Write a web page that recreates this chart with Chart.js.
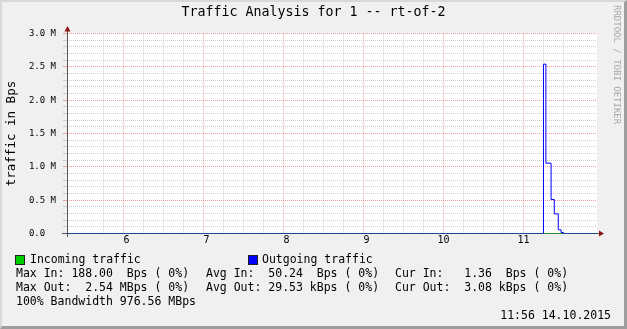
<!DOCTYPE html>
<html>
<head>
<meta charset="utf-8">
<script src="https://cdn.jsdelivr.net/npm/chart.js@4.4.0/dist/chart.umd.min.js"></script>
<style>
  html, body { margin: 0; padding: 0; background: #F0F0F0; }
  #wrap { position: relative; width: 627px; height: 329px; background: #F0F0F0; overflow: hidden;
          font-family: "DejaVu Sans Mono", monospace; color: #000; }
  #wrap canvas { position: absolute; left: 0; top: 0; }
  .frame { position: absolute; left: 0; top: 0; width: 627px; height: 329px; box-sizing: border-box;
           border-style: solid; border-width: 2px 3px 3px 2px;
           border-color: #D8D8D8 #9E9E9E #9E9E9E #D8D8D8; pointer-events: none; }
  .t { position: absolute; font-size: 11.5px; line-height: 14px; white-space: pre; }
  .sq { position: absolute; top: 255px; width: 8px; height: 8px; border: 1px solid #202020; }
  #brand { position: absolute; left: 621px; top: 5px; font-size: 9px; line-height: 9px; color: #A8A8A8;
           white-space: pre; transform-origin: 0 0; transform: rotate(90deg); }
</style>
</head>
<body>
<div id="wrap">
  <canvas id="myChart" width="627" height="329"></canvas>
  <div class="frame"></div>
  <div id="brand">RRDTOOL / TOBI OETIKER</div>
  <div class="sq" style="left:15px;background:#00CC00"></div>
  <div class="t" style="left:30px;top:252px">Incoming traffic</div>
  <div class="sq" style="left:248px;background:#0000FF"></div>
  <div class="t" style="left:262px;top:252px">Outgoing traffic</div>
  <div class="t" style="left:16px;top:266px">Max In: 188.00  Bps ( 0%)</div>
  <div class="t" style="left:206px;top:266px">Avg In:  50.24  Bps ( 0%)</div>
  <div class="t" style="left:395px;top:266px">Cur In:   1.36  Bps ( 0%)</div>
  <div class="t" style="left:16px;top:280px">Max Out:  2.54 MBps ( 0%)</div>
  <div class="t" style="left:206px;top:280px">Avg Out: 29.53 kBps ( 0%)</div>
  <div class="t" style="left:395px;top:280px">Cur Out:  3.08 kBps ( 0%)</div>
  <div class="t" style="left:16px;top:294px">100% Bandwidth 976.56 MBps</div>
  <div class="t" style="right:16px;top:308px">11:56 14.10.2015</div>
</div>
<script>
// time of day in hours, values in MBps
const hours = [5.294, 11.25, 11.28, 11.345, 11.385, 11.435, 11.47, 11.5, 11.919];
const outgoing = [0, 2.54, 1.055, 0.51, 0.295, 0.055, 0.015, 0, 0];
const incoming = [0, 0.000188, 0.00006, 0.00004, 0.00003, 0.00002, 0.00001, 0, 0];
const hourTicks = [6, 7, 8, 9, 10, 11];
const yTicks = [0, 0.5, 1.0, 1.5, 2.0, 2.5, 3.0];

const MAJOR = '#EE9A9A';
const MINOR = '#CDCDCD';
const mono = '"DejaVu Sans Mono", monospace';

function near(a, b) { return Math.abs(a - b) < 1e-6; }
function onStep(v, n) { return Math.abs(v * n - Math.round(v * n)) < 1e-6; }

const axes = {
  id: 'axes',
  beforeDraw(chart) {
    const { ctx, chartArea: a } = chart;
    ctx.save();
    ctx.fillStyle = '#FFFFFF';
    ctx.fillRect(a.left, a.top, a.right - a.left, a.bottom - a.top);
    ctx.restore();
  },
  beforeDatasetsDraw(chart) {
    const { ctx, chartArea: a } = chart;
    ctx.save();
    ctx.strokeStyle = '#555555';
    ctx.lineWidth = 1;
    ctx.beginPath();
    ctx.moveTo(a.left + 0.5, a.top - 3);
    ctx.lineTo(a.left + 0.5, a.bottom + 3.5);
    ctx.moveTo(a.left - 5, a.bottom);
    ctx.lineTo(a.right + 3, a.bottom);
    ctx.stroke();
    ctx.restore();
  },
  afterDraw(chart) {
    const { ctx, chartArea: a } = chart;
    ctx.save();
    ctx.fillStyle = '#8E1414';
    ctx.beginPath();
    ctx.moveTo(a.left + 0.5, a.top - 7.5);
    ctx.lineTo(a.left - 2.5, a.top - 2);
    ctx.lineTo(a.left + 3.5, a.top - 2);
    ctx.closePath();
    ctx.fill();
    ctx.beginPath();
    ctx.moveTo(a.right + 7, a.bottom);
    ctx.lineTo(a.right + 2, a.bottom - 3);
    ctx.lineTo(a.right + 2, a.bottom + 3);
    ctx.closePath();
    ctx.fill();
    ctx.restore();
  }
};

new Chart('myChart', {
  type: 'line',
  data: {
    datasets: [{
      label: 'Outgoing traffic',
      data: hours.map((h, i) => ({ x: h, y: outgoing[i] })),
      borderColor: '#0000FF',
      borderWidth: 1,
      pointRadius: 0,
      stepped: 'before',
      order: 1
    }, {
      label: 'Incoming traffic',
      data: hours.map((h, i) => ({ x: h, y: incoming[i] })),
      borderColor: '#00CC00',
      borderWidth: 1,
      pointRadius: 0,
      stepped: 'before',
      order: 2
    }]
  },
  options: {
    responsive: false,
    animation: false,
    layout: { padding: { left: 0, right: 0, top: 0, bottom: 80 } },
    plugins: {
      legend: { display: false },
      tooltip: { enabled: false },
      title: {
        display: true,
        text: 'Traffic Analysis for 1 -- rt-of-2',
        color: '#000',
        font: { family: mono, size: 13.3, weight: 'normal', lineHeight: 1.2 },
        padding: { top: 5, bottom: 12.54 }
      }
    },
    scales: {
      x: {
        type: 'linear',
        min: 5.294,
        max: 11.919,
        afterFit: s => { s.height = 15.5; },
        border: { display: false, dash: [1, 1] },
        grid: {
          drawTicks: false,
          color: c => hourTicks.some(h => near(h, c.tick.value)) ? MAJOR : MINOR
        },
        ticks: {
          stepSize: 0.25,
          autoSkip: false,
          maxRotation: 0,
          padding: 2,
          color: '#000',
          font: { family: mono, size: 10, lineHeight: 1 },
          callback: v => {
            if (!onStep(v, 4)) return null;
            const h = hourTicks.find(m => near(m, v));
            return h === undefined ? '' : String(h).padStart(2, ' ');
          }
        }
      },
      y: {
        min: 0,
        max: 3,
        afterFit: s => { s.width = 67; },
        border: { display: false, dash: [1, 1] },
        grid: {
          tickLength: 4,
          color: c => yTicks.some(m => near(m, c.tick.value)) ? MAJOR : MINOR
        },
        title: {
          display: true,
          text: 'traffic in Bps',
          color: '#000',
          font: { family: mono, size: 12.5, lineHeight: 1.2 },
          padding: { top: 4, bottom: 0 }
        },
        ticks: {
          stepSize: 0.1,
          autoSkip: false,
          padding: 7,
          color: '#000',
          font: { family: mono, size: 9 },
          callback: v => {
            if (!onStep(v, 10)) return null;
            const m = yTicks.find(t => near(t, v));
            if (m === undefined) return '';
            return near(m, 0) ? '0.0  ' : m.toFixed(1) + ' M';
          }
        }
      },
      // empty spacer on the right so the title centres on the whole image
      pad: {
        position: 'right',
        display: true,
        afterFit: s => { s.width = 30; },
        border: { display: false },
        grid: { display: false, drawTicks: false },
        ticks: { display: false }
      }
    }
  },
  plugins: [axes]
});
</script>
</body>
</html>
